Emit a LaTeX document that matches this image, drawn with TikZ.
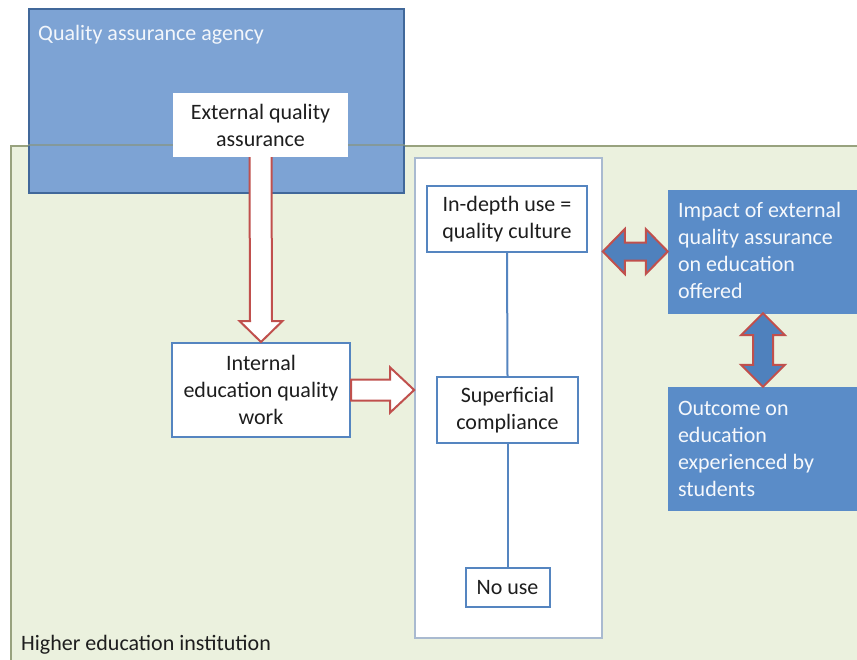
\documentclass[tikz,border=0pt]{standalone}
\usepackage{fontspec}
\setmainfont{Carlito}
\usetikzlibrary{calc}
\definecolor{heigreen}{HTML}{EBF1DE}
\definecolor{heiline}{HTML}{98A27E}
\definecolor{agencyblue}{HTML}{7DA3D4}
\definecolor{agencyline}{HTML}{41689A}
\definecolor{deepblue}{HTML}{5A8CC8}
\definecolor{boxline}{HTML}{5585C0}
\definecolor{colline}{HTML}{A9BAD0}
\definecolor{arrowred}{HTML}{C0504D}
\definecolor{arrowblue}{HTML}{4F81BD}
\definecolor{inktext}{HTML}{1E1E1E}
\tikzset{
  bigfont/.style={font=\fontsize{22}{27}\selectfont},
  txt/.style={bigfont, text=inktext, align=center},
  stagebox/.style={txt, draw=boxline, line width=2pt, fill=white, inner sep=0pt},
  bluebox/.style={fill=deepblue, draw=deepblue, inner sep=0pt},
  bluetext/.style={bigfont, text=white!94!deepblue, align=left, inner sep=0pt},
  hollowarrow/.style={draw=arrowred, line width=2pt, fill=white, line join=miter},
  bluearrow/.style={draw=arrowred, line width=2pt, fill=arrowblue, line join=miter},
  link/.style={draw=boxline, line width=2pt}
}
\begin{document}
\begin{tikzpicture}[x=1pt,y=-1pt]
\useasboundingbox (0,0) rectangle (857,659);
\begin{scope}
\clip (0,0) rectangle (857,659);
% institution area
\node[draw=heiline, fill=heigreen, line width=1.6pt, minimum width=870pt, minimum height=525pt,
  inner sep=0pt, anchor=north west] (hei) at (10,145) {};
\node[txt, anchor=base west, inner sep=0pt] (heilabel) at (21,650) {Higher education institution};
% agency
\node[fill=agencyblue, draw=agencyline, line width=1.6pt, minimum width=375pt, minimum height=184pt,
  inner sep=0pt, anchor=north west] (agency) at (28,8) {};
\draw[heiline!80!agencyline, line width=1.6pt, opacity=0.7] (agency.west |- hei.north) -- (agency.east |- hei.north);
\node[bluetext, text=white!90!agencyblue, anchor=base west] (agencylabel) at (38,40) {Quality assurance agency};
% boxes
\node[txt, fill=white, inner sep=0pt, minimum width=175pt, minimum height=64pt] (ext) at (260.5,125)
  {External quality\\assurance};
\node[stagebox, minimum width=178pt, minimum height=94pt] (int) at (261,390)
  {Internal\\education quality\\work};
\node[draw=colline, line width=1.6pt, fill=white, minimum width=187pt, minimum height=480pt,
  inner sep=0pt] (col) at (508.5,398) {};
\node[stagebox, minimum width=160pt, minimum height=66pt] (deep) at (507,219)
  {In-depth use =\\quality culture};
\node[stagebox, minimum width=141pt, minimum height=66pt] (sup) at (507.5,410)
  {Superficial\\compliance};
\node[stagebox, minimum width=84pt, minimum height=39pt] (nouse) at (507.5,587.5) {No use};
\draw[link] (deep.south) -- (sup.north);
\draw[link] (sup.south) -- (nouse.north);
% blue outcome boxes; text baseline of the last of four lines
\node[bluebox, minimum width=190pt, minimum height=123pt] (impact) at (763,251.5) {};
\node[bluetext, anchor=base west] (impacttext) at ($(impact.north west)+(10,109)$)
  {Impact of external\\quality assurance\\on education\\offered};
\node[bluebox, minimum width=190pt, minimum height=123pt] (outcome) at (763,448.5) {};
\node[bluetext, anchor=base west] (outcometext) at ($(outcome.north west)+(10,110)$)
  {Outcome on\\education\\experienced by\\students};
% external -> internal
\draw[hollowarrow]
  ($(ext.south)+(-11,0)$) -- ($(int.north)+(-11,-21)$) -- ($(int.north)+(-21.5,-21)$)
  -- (int.north) -- ($(int.north)+(21.5,-21)$) -- ($(int.north)+(11,-21)$)
  -- ($(ext.south)+(11,0)$);
% internal -> stages
\draw[hollowarrow]
  ($(int.east)+(0,-10.5)$) -- ($(col.west |- int.east)+(-24,-10.5)$) -- ($(col.west |- int.east)+(-24,-22.5)$)
  -- (col.west |- int.east) -- ($(col.west |- int.east)+(-24,22.5)$) -- ($(col.west |- int.east)+(-24,10.5)$)
  -- ($(int.east)+(0,10.5)$) -- cycle;
% stages <-> impact
\coordinate (hl) at (col.east |- impact.west);
\coordinate (hr) at (impact.west);
\draw[bluearrow]
  (hl) -- ($(hl)+(22,-22.5)$) -- ($(hl)+(22,-9)$) -- ($(hr)+(-22,-9)$) -- ($(hr)+(-22,-22.5)$)
  -- (hr) -- ($(hr)+(-22,22.5)$) -- ($(hr)+(-22,9)$) -- ($(hl)+(22,9)$) -- ($(hl)+(22,22.5)$) -- cycle;
% impact <-> outcome
\coordinate (vt) at (impact.south);
\coordinate (vb) at (outcome.north);
\draw[bluearrow]
  (vt) -- ($(vt)+(22,22)$) -- ($(vt)+(10,22)$) -- ($(vb)+(10,-22)$) -- ($(vb)+(22,-22)$)
  -- (vb) -- ($(vb)+(-22,-22)$) -- ($(vb)+(-10,-22)$) -- ($(vt)+(-10,22)$) -- ($(vt)+(-22,22)$) -- cycle;
\end{scope}
\end{tikzpicture}
\end{document}
